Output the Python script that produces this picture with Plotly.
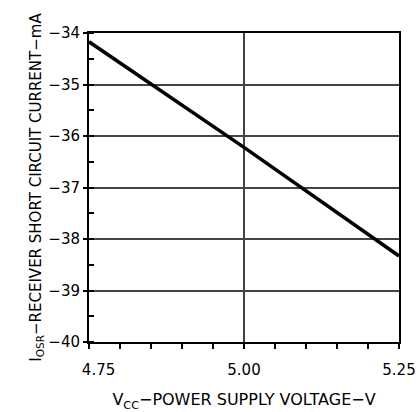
import plotly.graph_objects as go

vcc = [4.75, 5.00, 5.25]
iosr = [-34.17, -36.22, -38.33]

x_ticks = [4.75, 5.00, 5.25]
x_tick_labels = ["\u00a0\u00a0\u00a0\u00a04.75", "5.00", "5.25"]
y_ticks = [-40, -39, -38, -37, -36, -35, -34]
y_tick_labels = ["−40", "−39", "−38", "−37", "−36", "−35", "−34"]

fig = go.Figure()
fig.add_trace(go.Scatter(x=vcc, y=iosr, mode="lines",
                         line=dict(color="black", width=3.5), showlegend=False))

font = dict(family="DejaVu Sans, sans-serif", size=15, color="black")
xtitle_font = dict(family="DejaVu Sans, sans-serif", size=16, color="black")

fig.update_layout(
    width=420, height=412,
    margin=dict(l=89, r=21, t=33, b=70, autoexpand=False),
    paper_bgcolor="white", plot_bgcolor="white",
    font=font,
    xaxis=dict(
        range=[4.75, 5.25], tickvals=x_ticks, ticktext=x_tick_labels,
        automargin=False,
        showline=True, linecolor="black", linewidth=2, mirror=True,
        showgrid=True, gridcolor="#444", gridwidth=1.5,
        ticks="outside", ticklen=5, tickwidth=1.5, tickcolor="black",
        ticklabelstandoff=8,
        minor=dict(dtick=0.05, tick0=4.75, ticks="outside", ticklen=5, tickwidth=1.5,
                   tickcolor="black", showgrid=False),
        zeroline=False,
        title=dict(text="V<sub>CC</sub>−POWER SUPPLY VOLTAGE−V", standoff=16, font=xtitle_font),
    ),
    yaxis=dict(
        range=[-40, -34], tickvals=y_ticks, ticktext=y_tick_labels,
        ticksuffix="\u00a0\u00a0",
        automargin=False,
        showline=True, linecolor="black", linewidth=2, mirror=True,
        showgrid=True, gridcolor="#444", gridwidth=1.5,
        ticks="outside", ticklen=4, tickwidth=1.5, tickcolor="black",
        minor=dict(dtick=0.5, tick0=-40, ticks="inside", ticklen=5, tickwidth=1.5,
                   tickcolor="black", showgrid=False),
        zeroline=False,
        title=dict(text="I<sub>OSR</sub>−RECEIVER SHORT CIRCUIT CURRENT−mA", standoff=3, font=font),
    ),
)

fig.write_html("out.html", config={"displayModeBar": False},
               post_script="document.body.style.margin='0';document.body.style.overflow='hidden';")
